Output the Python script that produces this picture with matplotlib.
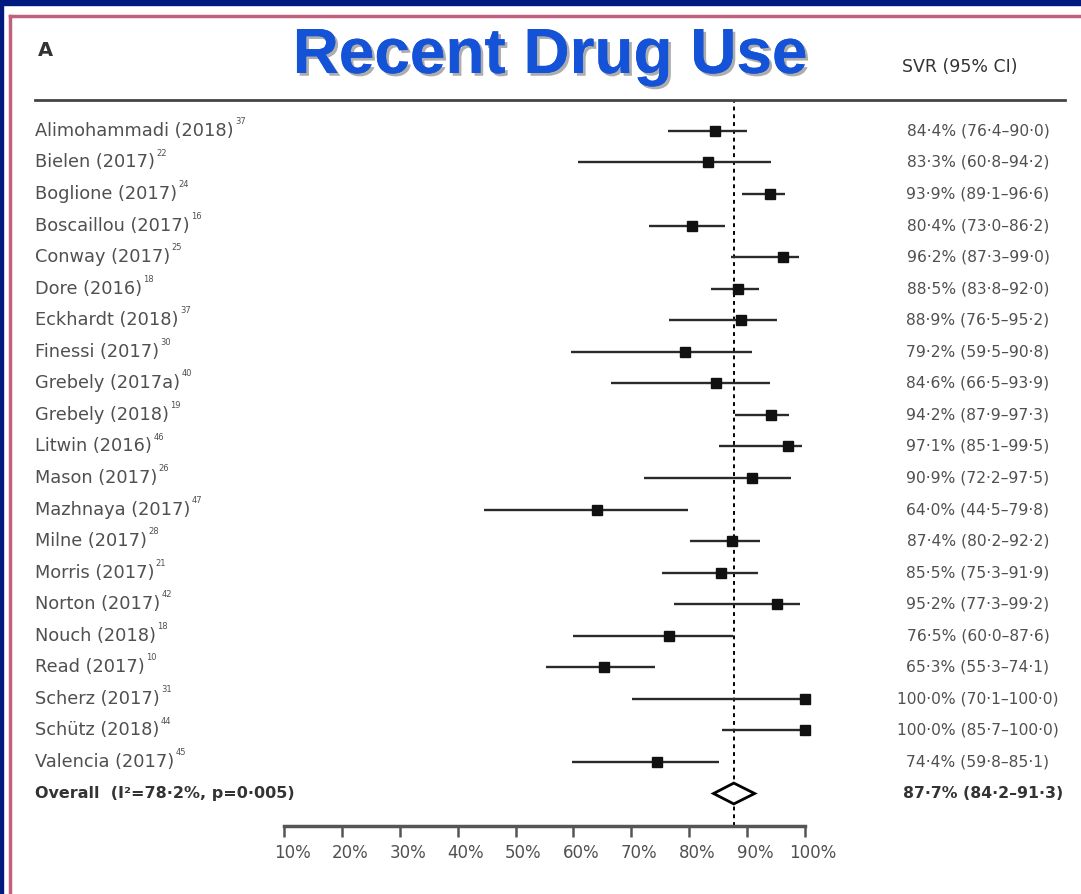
import matplotlib.pyplot as plt
import numpy as np
from matplotlib.lines import Line2D
from matplotlib.patches import Rectangle, Polygon
import matplotlib.transforms as mtransforms
import matplotlib.patheffects as pe

studies = ["Alimohammadi (2018)", "Bielen (2017)", "Boglione (2017)", "Boscaillou (2017)",
           "Conway (2017)", "Dore (2016)", "Eckhardt (2018)", "Finessi (2017)",
           "Grebely (2017a)", "Grebely (2018)", "Litwin (2016)", "Mason (2017)",
           "Mazhnaya (2017)", "Milne (2017)", "Morris (2017)", "Norton (2017)",
           "Nouch (2018)", "Read (2017)", "Scherz (2017)", "Schütz (2018)", "Valencia (2017)"]
refs = ["37", "22", "24", "16", "25", "18", "37", "30", "40", "19", "46", "26",
        "47", "28", "21", "42", "18", "10", "31", "44", "45"]
svr = [84.4, 83.3, 93.9, 80.4, 96.2, 88.5, 88.9, 79.2, 84.6, 94.2, 97.1, 90.9,
       64.0, 87.4, 85.5, 95.2, 76.5, 65.3, 100.0, 100.0, 74.4]
lo = [76.4, 60.8, 89.1, 73.0, 87.3, 83.8, 76.5, 59.5, 66.5, 87.9, 85.1, 72.2,
      44.5, 80.2, 75.3, 77.3, 60.0, 55.3, 70.1, 85.7, 59.8]
hi = [90.0, 94.2, 96.6, 86.2, 99.0, 92.0, 95.2, 90.8, 93.9, 97.3, 99.5, 97.5,
      79.8, 92.2, 91.9, 99.2, 87.6, 74.1, 100.0, 100.0, 85.1]
overall = 87.7
overall_lo = 84.2
overall_hi = 91.3
ticks = [10, 20, 30, 40, 50, 60, 70, 80, 90, 100]

W, H = 1081, 894
fig = plt.figure(figsize=(W / 100, H / 100), dpi=100)
fig.patch.set_facecolor("white")

# slide frame
fig.add_artist(Rectangle((0, 1 - 5 / H), 1, 5 / H, transform=fig.transFigure, color="#001a80", zorder=0))
fig.add_artist(Rectangle((0, 0), 3 / W, 1, transform=fig.transFigure, color="#001a80", zorder=0))
fig.add_artist(Line2D([10 / W, 1], [1 - 16 / H, 1 - 16 / H], transform=fig.transFigure,
                      color="#c0607e", lw=2.5, zorder=1))
fig.add_artist(Line2D([10 / W, 10 / W], [0, 1 - 16 / H], transform=fig.transFigure,
                      color="#c0607e", lw=2.5, zorder=1))

ax = fig.add_axes([284 / W, 1 - 826 / H, 521 / W, 726 / H])
ax.set_facecolor("none")
ax.set_xlim(10, 100)
ax.set_ylim(22.03, -0.98)

grey = "#505050"
fam = ["DejaVu Sans"]

y = np.arange(len(studies))
ax.hlines(y, lo, hi, color="#2a2a2a", lw=1.7, zorder=2)
ax.plot(svr, y, "s", color="#111111", ms=6.5, zorder=3, clip_on=False)

ny = len(studies)
diamond = Polygon([[overall_lo, ny], [overall, ny - 0.33], [overall_hi, ny], [overall, ny + 0.33]],
                  closed=True, facecolor="white", edgecolor="black", lw=2, zorder=4)
ax.add_patch(diamond)
ax.axvline(overall, color="black", lw=1.4, ls=(0, (2, 2)), zorder=1)

for s in ["top", "left", "right"]:
    ax.spines[s].set_visible(False)
ax.spines["bottom"].set_linewidth(2.5)
ax.spines["bottom"].set_color("#555555")
ax.set_yticks([])
ax.set_xticks(ticks)
ax.set_xticklabels([f"{t}%" for t in ticks], fontsize=12, color=grey, family=fam)
ax.tick_params(axis="x", direction="out", length=8, width=1.8, color="#555555", pad=5)
shift = mtransforms.ScaledTranslation(8 / 100, 0, fig.dpi_scale_trans)
for lab in ax.get_xticklabels():
    lab.set_transform(lab.get_transform() + shift)

# text columns
tr = mtransforms.blended_transform_factory(fig.transFigure, ax.transData)
renderer = fig.canvas.get_renderer()
for i, name in enumerate(studies):
    t = ax.text(35 / W, i, name, transform=tr, ha="left", va="center",
                fontsize=12.8, color=grey, family=fam)
    bb = t.get_window_extent(renderer)
    ax.annotate(refs[i], xy=(bb.x1 / W, i), xycoords=tr, xytext=(1, 3.5),
                textcoords="offset points", fontsize=6, color=grey, family=fam,
                ha="left", va="bottom")
    ax.text(978 / W, i, f"{svr[i]:.1f}% ({lo[i]:.1f}–{hi[i]:.1f})".replace(".", "·"),
            transform=tr, ha="center", va="center", fontsize=11.2, color=grey, family=fam)
ax.text(35 / W, ny, "Overall  (I²=78·2%, p=0·005)", transform=tr, ha="left", va="center",
        fontsize=11.5, color="#333333", fontweight="bold", family=fam)
ax.text(983 / W, ny, f"{overall:.1f}% ({overall_lo:.1f}–{overall_hi:.1f})".replace(".", "·"),
        transform=tr, ha="center", va="center", fontsize=11.3, color="#333333",
        fontweight="bold", family=fam)

fig.add_artist(Line2D([35 / W, 1065 / W], [1 - 100 / H, 1 - 100 / H], transform=fig.transFigure,
                      color="#444444", lw=2))
fig.text(38 / W, 1 - 50 / H, "A", fontsize=14, fontweight="bold", color="#333333",
         family=fam, ha="left", va="center")
fig.text(960 / W, 1 - 67 / H, "SVR (95% CI)", fontsize=12.5, color="#333333",
         family=fam, ha="center", va="center")
fig.text(550 / W, 1 - 56 / H, "Recent Drug Use", fontsize=46, fontweight="bold",
         color="#1452d8", family=["Liberation Sans", "DejaVu Sans"], ha="center", va="center",
         path_effects=[pe.withSimplePatchShadow(offset=(2, -2), shadow_rgbFace="#777777", alpha=0.6),
                       pe.Normal()])

fig.savefig("out.png", dpi=100)
